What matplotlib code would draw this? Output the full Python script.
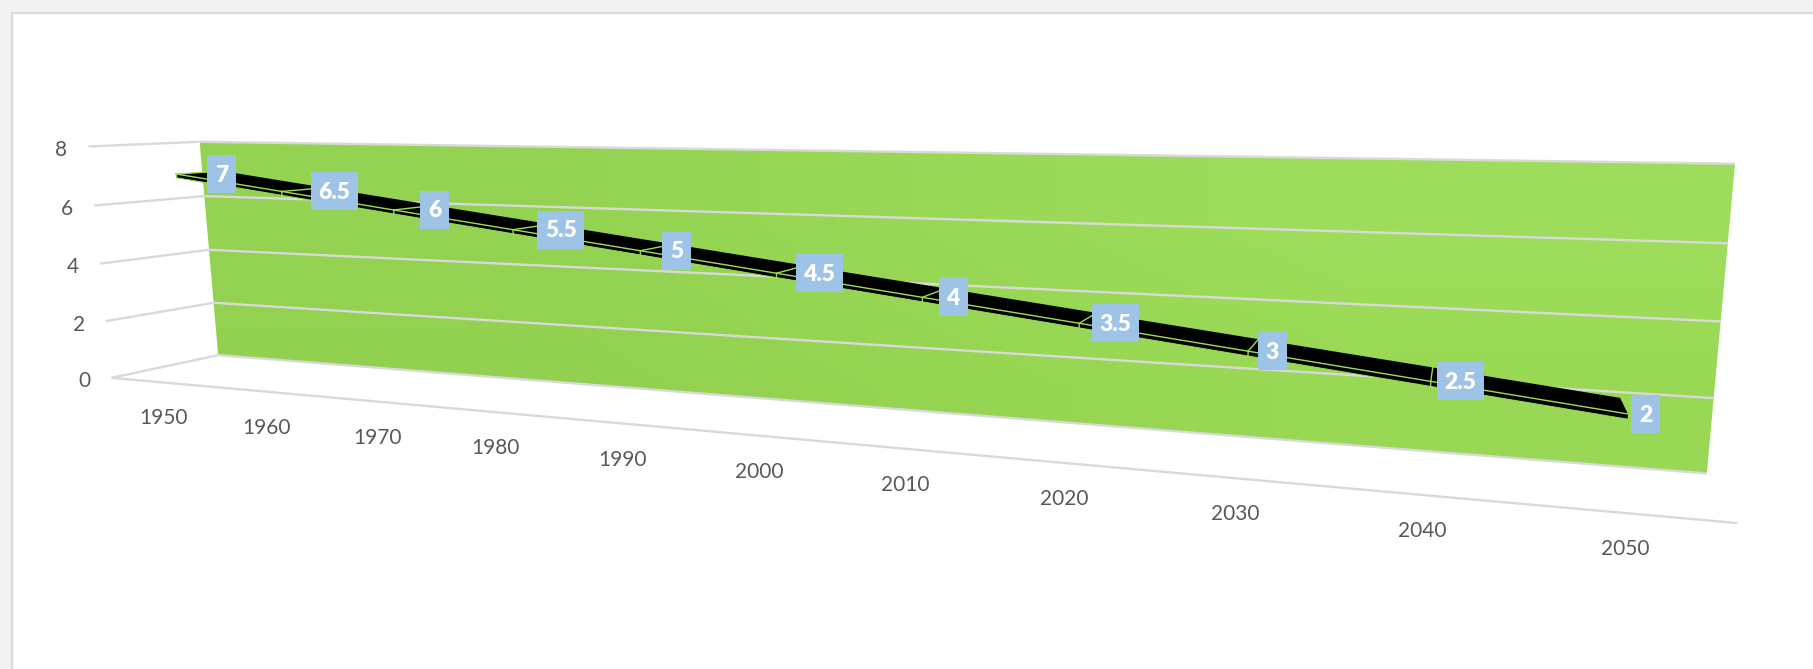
import numpy as np
import matplotlib
matplotlib.use('Agg')
import matplotlib.pyplot as plt
from matplotlib.patches import Polygon, Rectangle

plt.rcParams['font.family'] = ['Lato', 'DejaVu Sans']

# Chart data
years = [1950, 1960, 1970, 1980, 1990, 2000, 2010, 2020, 2030, 2040, 2050]
values = [7, 6.5, 6, 5.5, 5, 4.5, 4, 3.5, 3, 2.5, 2]
value_ticks = [0, 2, 4, 6, 8]

# Axis box of the 3D view: (category, value, depth) -> pixel, depth 0 = front, 1 = back wall
n_cat = len(years)
box_points = [
    (0, 0, 0, 112, 378), (n_cat, 0, 0, 1737, 523),
    (0, 0, 1, 217.7, 355), (n_cat, 0, 1, 1707, 473),
    (0, 8, 1, 200, 142), (n_cat, 8, 1, 1735, 164),
    (0, 8, 0, 88, 146), (n_cat / 2, 0, 0, 758, 436),
]

# The ribbon sits at its own offset inside the box
ribbon_t0, ribbon_dt = 0.39, 1.012
ribbon_near, ribbon_far = 0.40, 0.83
ribbon_drop = 0.13


def fit_projection(points):
    # Direct linear transform, last matrix entry fixed at 1
    A, b = [], []
    for x, y, z, u, w in points:
        A.append([x, y, z, 1, 0, 0, 0, 0, -u * x, -u * y, -u * z])
        A.append([0, 0, 0, 0, x, y, z, 1, -w * x, -w * y, -w * z])
        b += [u, w]
    p = np.linalg.lstsq(np.array(A, float), np.array(b, float), rcond=None)[0]
    return np.append(p, 1).reshape(3, 4)


P = fit_projection(box_points)


def project(x, y, z):
    x, y, z = np.broadcast_arrays(np.asarray(x, float), np.asarray(y, float), np.asarray(z, float))
    pts = P @ np.vstack([x.ravel(), y.ravel(), z.ravel(), np.ones(x.size)])
    return pts[0] / pts[2], pts[1] / pts[2]


fig = plt.figure(figsize=(18.13, 6.69), dpi=100, facecolor='#f3f3f3')
ax = fig.add_axes([0, 0, 1, 1])
ax.axis('off')

# White chart panel, running off the right and bottom of the page
ax.add_patch(Rectangle((12, 13), 1900, 800, facecolor='white', edgecolor='#dadada', linewidth=1.6, zorder=0))

grid_color = '#d9d9d9'
grid_lw = 1.7

# Back wall with a faint gradient, lighter towards the right
wall_x, wall_y = project([0, n_cat, n_cat, 0], [0, 0, 8, 8], [1, 1, 1, 1])
shade = np.array([[[0.58, 0.83, 0.32], [0.62, 0.87, 0.36]],
                  [[0.57, 0.82, 0.31], [0.60, 0.85, 0.33]]])
im = ax.imshow(shade, extent=(wall_x.min(), wall_x.max(), wall_y.max(), wall_y.min()),
               interpolation='bilinear', aspect='auto', zorder=1)
wall = Polygon(np.column_stack([wall_x, wall_y]), closed=True, transform=ax.transData)
im.set_clip_path(wall)

# Gridlines run along the side wall and then the back wall
for v in value_ticks:
    px, py = project([0, 0], [v, v], [0, 1])
    ax.plot(px, py, color=grid_color, lw=grid_lw, zorder=2, solid_capstyle='butt')
    px, py = project([0, n_cat], [v, v], [1, 1])
    ax.plot(px, py, color=grid_color, lw=grid_lw, zorder=2, solid_capstyle='butt')
    tx, ty = project(0, v, 0)
    ax.text(tx[0] - 27, ty[0] + 3.5, str(v), color='#595959', fontsize=15, ha='center', va='center', zorder=6)

# Floor front edge
px, py = project([0, n_cat], [0, 0], [0, 0])
ax.plot(px, py, color=grid_color, lw=grid_lw, zorder=2, solid_capstyle='butt')

# Category labels
for i, year in enumerate(years):
    tx, ty = project(0.52 + 0.997 * i, 0, 0)
    ax.text(tx[0], ty[0] + 36, str(year), color='#595959', fontsize=15, ha='center', va='center', zorder=6)

# Ribbon
cat_pos = ribbon_t0 + ribbon_dt * np.arange(n_cat)
vals = np.array(values, float)
near_x, near_y = project(cat_pos, vals, ribbon_near)
far_x, far_y = project(cat_pos, vals, ribbon_far)
low_x, low_y = project(cat_pos, vals - ribbon_drop, ribbon_near)

ribbon_green = '#9ade58'
top_face = np.column_stack([np.r_[near_x, far_x[::-1]], np.r_[near_y, far_y[::-1]]])
ax.add_patch(Polygon(top_face, closed=True, facecolor='black', edgecolor='none', zorder=3))
front_face = np.column_stack([np.r_[near_x, low_x[::-1]], np.r_[near_y, low_y[::-1]]])
ax.add_patch(Polygon(front_face, closed=True, facecolor='black', edgecolor='none', zorder=3))
ax.plot(near_x, near_y, color=ribbon_green, lw=1.0, zorder=4)
ax.plot(low_x, low_y, color=ribbon_green, lw=0.7, zorder=4)
for i in range(n_cat):
    ax.plot([near_x[i], far_x[i]], [near_y[i], far_y[i]], color=ribbon_green, lw=1.0, zorder=4)
    ax.plot([near_x[i], low_x[i]], [near_y[i], low_y[i]], color=ribbon_green, lw=1.0, zorder=4)

# Value labels in blue boxes
box_h = 38
for i, v in enumerate(values):
    label = f'{v:g}'
    box_w = 47 if len(label) > 1 else 29
    left = near_x[i] + 31 - 0.0197 * (near_x[i] - near_x[0])
    ax.add_patch(Rectangle((left, near_y[i] - box_h / 2), box_w, box_h, facecolor='#9dc3e6', edgecolor='none', zorder=5))
    ax.text(left + box_w / 2, near_y[i] + 1, label, color='white', fontweight='heavy', fontsize=16.5,
            ha='center', va='center', zorder=6)

ax.set_xlim(0, 1813)
ax.set_ylim(669, 0)
fig.savefig('out.png', dpi=100, facecolor=fig.get_facecolor())
